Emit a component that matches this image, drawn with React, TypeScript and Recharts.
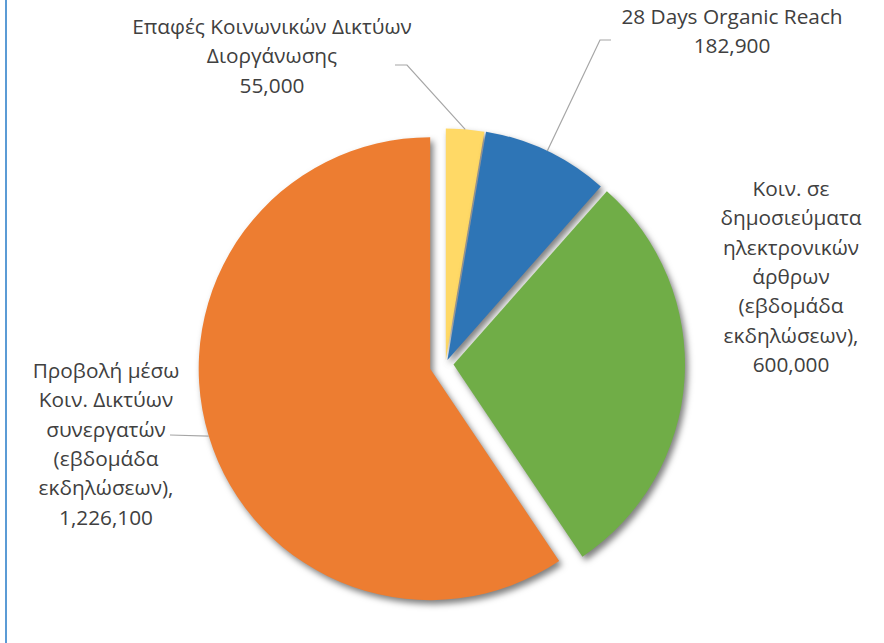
import { Cell, Pie, PieChart } from "recharts";

// slice order follows the reference, clockwise from 12 o'clock
const categories = [
  "Επαφές Κοινωνικών Δικτύων\nΔιοργάνωσης",
  "28 Days Organic Reach",
  "Κοιν. σε\nδημοσιεύματα\nηλεκτρονικών\nάρθρων\n(εβδομάδα\nεκδηλώσεων)",
  "Προβολή μέσω\nΚοιν. Δικτύων\nσυνεργατών\n(εβδομάδα\nεκδηλώσεων)",
];
const values = [55000, 182900, 600000, 1226100];
const colors = ["#ffd966", "#2e75b6", "#70ad47", "#ed7d31"];

const chartData = categories.map((name, i) => ({ name, value: values[i] }));

// layout
const WIDTH = 884;
const HEIGHT = 643;
const CX = 445.5;
const CY = 364;
const RADIUS = 231.5;
const explode = [4, 4.5, 8, 16];
const FONT_SIZE = 20.8;
const LINE_HEIGHT = 29.3;
const RAD = Math.PI / 180;

const labelLayout: Array<{
  x: number;
  y: number;
  sep: string;
  leader: Array<[number, number]> | null;
}> = [
  { x: 272, y: 28, sep: "", leader: [[407, 65], [395, 65]] },
  { x: 732, y: 18, sep: "", leader: [[600, 40], [611, 40]] },
  { x: 791, y: 190, sep: ",", leader: null },
  { x: 106, y: 372, sep: ",", leader: [[170, 435]] },
];

const numberFormatter = new Intl.NumberFormat("en-US");

const total = values.reduce((a, b) => a + b, 0);

// clockwise angle (from top) of each slice's middle, used for the explode offset
function sliceOffset(index: number) {
  const before = values.slice(0, index).reduce((a, b) => a + b, 0);
  const mid = ((before + values[index] / 2) / total) * 360 * RAD;
  return {
    dx: explode[index] * Math.sin(mid),
    dy: -explode[index] * Math.cos(mid),
  };
}

function renderLabel(props: any, target: number) {
  if (props.index !== target) {
    return null;
  }
  const layout = labelLayout[target];
  const lines = String(props.name).split("\n");
  lines[lines.length - 1] += layout.sep;
  lines.push(numberFormatter.format(props.value));

  const ex = props.cx + props.outerRadius * Math.cos(-props.midAngle * RAD);
  const ey = props.cy + props.outerRadius * Math.sin(-props.midAngle * RAD);
  const points = layout.leader
    ? [[ex, ey], ...layout.leader].map((p) => p.join(",")).join(" ")
    : null;

  return (
    <g>
      {points && (
        <polyline points={points} fill="none" stroke="#a6a6a6" strokeWidth={1.2} />
      )}
      <text
        x={layout.x}
        y={layout.y}
        textAnchor="middle"
        dominantBaseline="middle"
        fill="#404040"
        fontSize={FONT_SIZE}
        fontFamily="'Open Sans', sans-serif"
      >
        {lines.map((line, i) => (
          <tspan key={i} x={layout.x} y={layout.y + i * LINE_HEIGHT}>
            {line}
          </tspan>
        ))}
      </text>
    </g>
  );
}

// soft drop shadow under each slice, like the Excel preset
const pageCss = `
body { margin: 0; }
.recharts-surface path { filter: drop-shadow(3px 4px 3px rgba(0, 0, 0, 0.5)); }
`;

export default function App() {
  return (
    <div style={{ position: "relative", width: WIDTH, height: HEIGHT, background: "#fff" }}>
      <style>{pageCss}</style>
      <div
        style={{
          position: "absolute",
          left: 5,
          top: 0,
          width: 2,
          height: HEIGHT,
          background: "#5b9bd5",
        }}
      />
      <PieChart width={WIDTH} height={HEIGHT} margin={{ top: 0, right: 0, bottom: 0, left: 0 }}>
        {chartData.map((_, i) => {
          const { dx, dy } = sliceOffset(i);
          return (
            <Pie
              key={i}
              data={chartData}
              dataKey="value"
              nameKey="name"
              cx={CX + dx}
              cy={CY + dy}
              innerRadius={0}
              outerRadius={RADIUS}
              startAngle={90}
              endAngle={-270}
              stroke="none"
              labelLine={false}
              label={(p: any) => renderLabel(p, i)}
              isAnimationActive={false}
            >
              {chartData.map((entry, j) => (
                <Cell key={entry.name} fill={j === i ? colors[j] : "transparent"} />
              ))}
            </Pie>
          );
        })}
      </PieChart>
    </div>
  );
}
